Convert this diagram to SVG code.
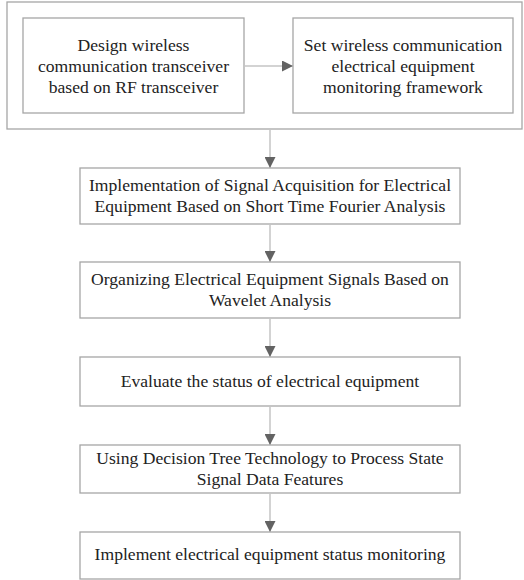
<svg xmlns="http://www.w3.org/2000/svg" width="524" height="580" viewBox="0 0 524 580">
<style>
.box{fill:#fff;stroke:#a6a6a6;stroke-width:1.3}
.t{font-family:"Liberation Serif","Times New Roman",serif;font-size:17.6px;fill:#222;text-anchor:middle}
.c{stroke:#c4c4c4;stroke-width:1.5;fill:none}
</style>
<defs>
<marker id="ah" viewBox="0 0 10 10" refX="10" refY="5" markerWidth="11" markerHeight="11" markerUnits="userSpaceOnUse" orient="auto">
<path d="M0,0 L10,5 L0,10 Z" fill="#636363"/>
</marker>
</defs>
<rect width="524" height="580" fill="#fff"/>
<g id="outer"><rect class="box" x="7" y="2" width="515" height="127"/></g>
<g id="n1"><rect class="box" x="23" y="18" width="221" height="95"/>
<text class="t" x="133.5" y="50.5">Design wireless</text>
<text class="t" x="133.5" y="71.5">communication transceiver</text>
<text class="t" x="133.5" y="92.5">based on RF transceiver</text></g>
<g id="n2"><rect class="box" x="293" y="18" width="220" height="95"/>
<text class="t" x="403" y="50.5">Set wireless communication</text>
<text class="t" x="403" y="71.5">electrical equipment</text>
<text class="t" x="403" y="92.5">monitoring framework</text></g>
<g id="n3"><rect class="box" x="80" y="168" width="380" height="56"/>
<text class="t" x="270" y="191">Implementation of Signal Acquisition for Electrical</text>
<text class="t" x="270" y="212">Equipment Based on Short Time Fourier Analysis</text></g>
<g id="n4"><rect class="box" x="80" y="262" width="380" height="56"/>
<text class="t" x="270" y="285">Organizing Electrical Equipment Signals Based on</text>
<text class="t" x="270" y="306">Wavelet Analysis</text></g>
<g id="n5"><rect class="box" x="80" y="357" width="380" height="49"/>
<text class="t" x="270" y="387">Evaluate the status of electrical equipment</text></g>
<g id="n6"><rect class="box" x="80" y="445" width="380" height="48"/>
<text class="t" x="270" y="464">Using Decision Tree Technology to Process State</text>
<text class="t" x="270" y="485">Signal Data Features</text></g>
<g id="n7"><rect class="box" x="80" y="532" width="380" height="47"/>
<text class="t" x="270" y="560">Implement electrical equipment status monitoring</text></g>
<g id="connectors">
<line class="c" x1="244" y1="66" x2="293" y2="66" marker-end="url(#ah)"/>
<line class="c" x1="270" y1="129" x2="270" y2="168" marker-end="url(#ah)"/>
<line class="c" x1="270" y1="224" x2="270" y2="262" marker-end="url(#ah)"/>
<line class="c" x1="270" y1="318" x2="270" y2="357" marker-end="url(#ah)"/>
<line class="c" x1="270" y1="406" x2="270" y2="445" marker-end="url(#ah)"/>
<line class="c" x1="270" y1="493" x2="270" y2="532" marker-end="url(#ah)"/>
</g>
</svg>
